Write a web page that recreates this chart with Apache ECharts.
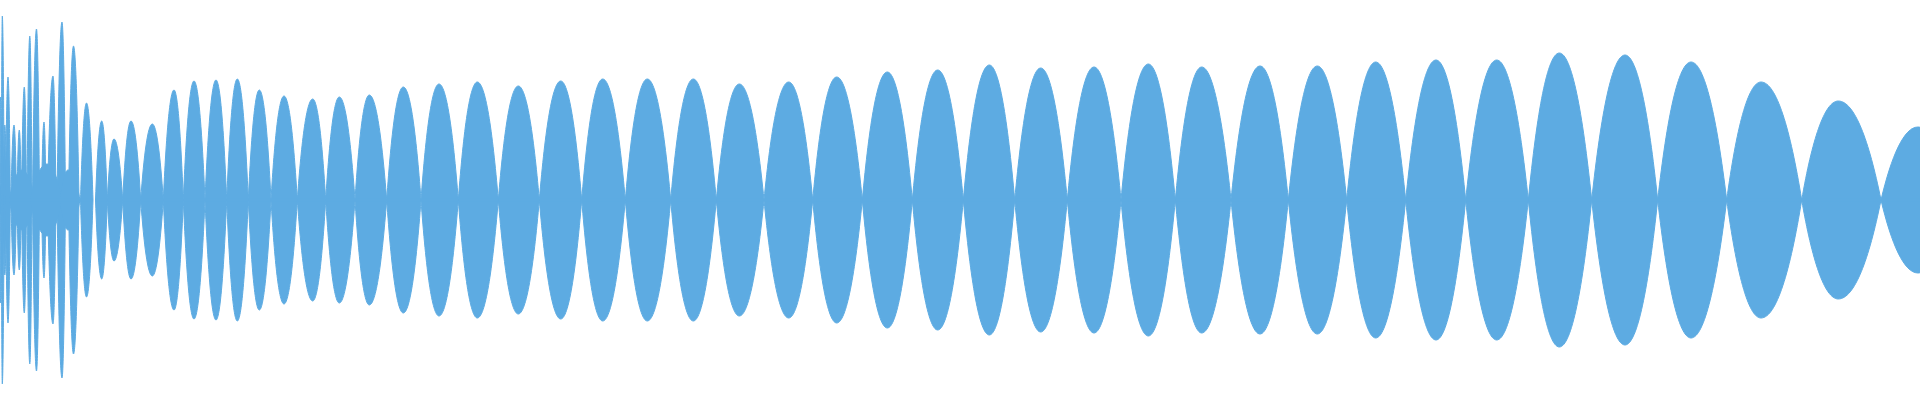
<!DOCTYPE html>
<html>
<head>
<meta charset="utf-8">
<style>html,body{margin:0;padding:0;background:#fff;}#c{width:1920px;height:400px;}</style>
<script src="https://cdn.jsdelivr.net/npm/echarts@6/dist/echarts.min.js"></script>
</head>
<body>
<div id="c"></div>
<script>
// ---- data (time units along x, amplitude along y) ----
// irregular onset bursts at the start: start, peak, end, amplitude
const spikeStart = [0, 1.3, 3.5, 5.5, 11, 17, 21.5, 27, 32.5, 41.5, 47.5, 57, 68.5, 80.5, 9, 30, 60];
const spikePeak  = [0.5, 2.3, 4.8, 8, 14, 19.3, 24.3, 29.8, 36.5, 44, 53, 62, 73.5, 86.5, 22, 47, 68];
const spikeEnd   = [1.8, 4.2, 6.5, 10.3, 16.5, 21.3, 26.5, 32, 39.5, 46, 56, 65.5, 79, 93, 35, 62, 80];
const spikeAmp   = [103, 184, 75, 123, 75, 70, 113, 164, 171, 78, 124, 178, 154, 97, 30, 36, 30];

// regular beats: zero crossings (nodes), peak positions and peak amplitudes
const nodes = [95.5, 107.3, 122.7, 140.7, 163.3, 183.3, 205, 226.7, 248.3, 271,
  297.3, 325.7, 355, 386.7, 421, 458.3, 498.3, 539.3, 581.7, 625.3,
  670.7, 716.3, 764, 812.7, 862.3, 912.3, 963.3, 1014.7, 1067.3, 1121,
  1175.3, 1231, 1288.3, 1346.7, 1405.7, 1465.7, 1528.3, 1591.7, 1657.7, 1726.7,
  1801.7, 1881, 1955];
const peaks = [101.7, 114, 131, 152.3, 174, 194, 216, 237.3, 259.3, 284,
  312.7, 339.3, 369.3, 403.3, 439, 477.3, 518.3, 560.7, 602.7, 647.3,
  693.3, 739.3, 788.7, 836.7, 887.3, 937.7, 989.3, 1040.7, 1094, 1148.3,
  1201.7, 1260, 1317.3, 1375.7, 1436, 1496.7, 1559.3, 1625, 1691, 1761,
  1838.3, 1918];
const amps = [79, 61, 79, 76, 110, 119, 120, 121, 110, 104,
  101, 103, 105, 113, 116, 118, 114, 119, 121, 121,
  121, 116, 118, 123, 128, 130, 135, 132, 133, 136,
  133, 134, 134, 138, 140, 140, 147, 145, 138, 118,
  99, 73];

const xRange = [0, 1920];
const yRange = [-200, 200];
const color = '#5dabe2';

// build the table the library needs: [start, peak, end, amplitude]
const lobes = [];
spikeStart.forEach((s, i) => lobes.push([s, spikePeak[i], spikeEnd[i], spikeAmp[i]]));
peaks.forEach((p, i) => lobes.push([nodes[i], p, nodes[i + 1], amps[i]]));

function renderItem(params, api) {
  const L = api.coord([api.value(0), 0]);
  const P = api.coord([api.value(1), api.value(3)]);
  const R = api.coord([api.value(2), 0]);
  const B = api.coord([api.value(1), -api.value(3)]);
  const cy = L[1];
  const wl = P[0] - L[0], wr = R[0] - P[0];
  const h = cy - P[1], hb = B[1] - cy;
  const a1 = 0.28, a2 = 0.60, b1 = 0.38; // lobe profile (bezier handles)
  const f = (n) => n.toFixed(2);
  const d =
    'M' + f(L[0]) + ' ' + f(cy) +
    ' C' + f(L[0] + a1 * wl) + ' ' + f(cy - a2 * h) + ' ' + f(P[0] - b1 * wl) + ' ' + f(P[1]) + ' ' + f(P[0]) + ' ' + f(P[1]) +
    ' C' + f(P[0] + b1 * wr) + ' ' + f(P[1]) + ' ' + f(R[0] - a1 * wr) + ' ' + f(cy - a2 * h) + ' ' + f(R[0]) + ' ' + f(cy) +
    ' C' + f(R[0] - a1 * wr) + ' ' + f(cy + a2 * hb) + ' ' + f(P[0] + b1 * wr) + ' ' + f(B[1]) + ' ' + f(P[0]) + ' ' + f(B[1]) +
    ' C' + f(P[0] - b1 * wl) + ' ' + f(B[1]) + ' ' + f(L[0] + a1 * wl) + ' ' + f(cy + a2 * hb) + ' ' + f(L[0]) + ' ' + f(cy) + ' Z';
  return {
    type: 'group',
    children: [
      {type: 'path', shape: {pathData: d}, style: {fill: color, stroke: color, lineWidth: 1}},
      {type: 'rect', shape: {x: L[0], y: cy - 1.5, width: R[0] - L[0], height: 3}, style: {fill: color}}
    ]
  };
}

const chart = echarts.init(document.getElementById('c'), null, {renderer: 'canvas'});
chart.setOption({
  animation: false,
  grid: {left: 0, right: 0, top: 0, bottom: 0},
  xAxis: {type: 'value', min: xRange[0], max: xRange[1], show: false, splitLine: {show: false}},
  yAxis: {type: 'value', min: yRange[0], max: yRange[1], show: false, splitLine: {show: false}},
  series: [{
    type: 'custom',
    renderItem: renderItem,
    data: lobes,
    clip: true,
    silent: true,
    encode: {x: [0, 1, 2], y: 3}
  }]
});
</script>
</body>
</html>
